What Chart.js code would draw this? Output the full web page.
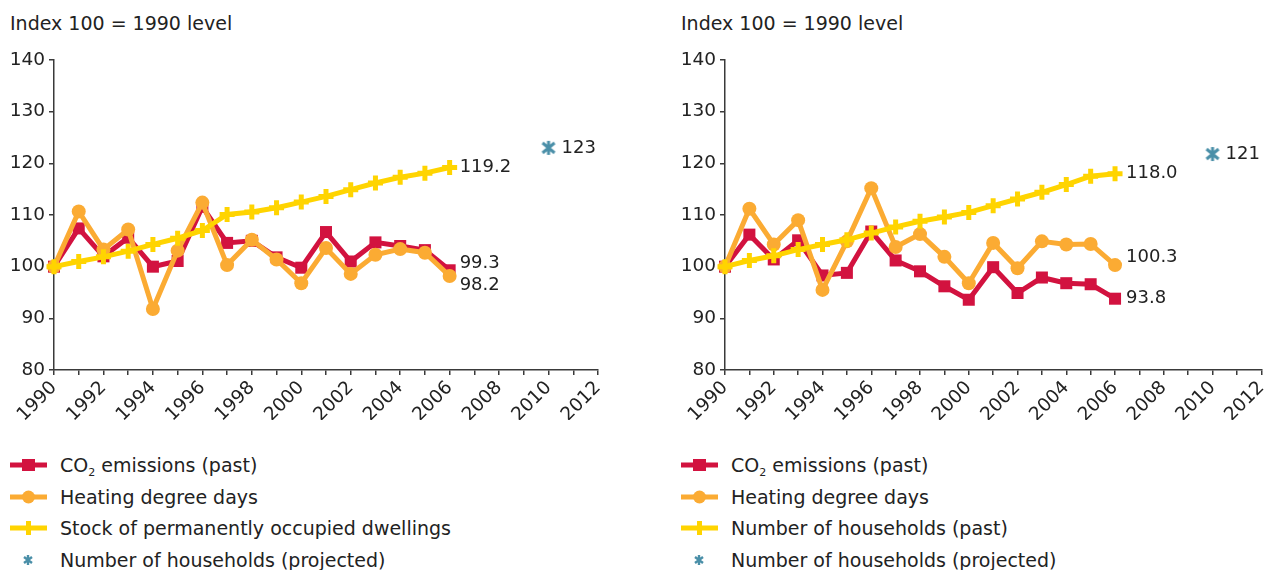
<!DOCTYPE html>
<html>
<head>
<meta charset="utf-8">
<script src="https://cdn.jsdelivr.net/npm/chart.js@4.4.1/dist/chart.umd.min.js"></script>
<style>
  html, body { margin:0; padding:0; background:#fff; }
  body { width:1279px; height:570px; position:relative; overflow:hidden; font-family:"DejaVu Sans", Verdana, sans-serif; color:#222; }
  .panel { position:absolute; top:0; height:420px; }
  .ttl { position:absolute; top:12px; font-size:19px; white-space:nowrap; }
  .leg { position:absolute; font-size:19px; white-space:nowrap; }
  .leg .row { position:absolute; left:0; height:24px; line-height:24px; }
  .leg canvas { position:absolute; left:0; top:0; }
  .leg span { position:absolute; left:50px; top:0; }
  sub { font-size:11px; vertical-align:-4px; line-height:0; }
</style>
</head>
<body>
<div class="ttl" style="left:10px;">Index 100 = 1990 level</div>
<div class="ttl" style="left:681px;">Index 100 = 1990 level</div>
<div class="panel" style="left:0;width:640px;"><canvas id="c1" width="640" height="420"></canvas></div>
<div class="panel" style="left:671px;width:608px;"><canvas id="c2" width="608" height="420"></canvas></div>
<div class="leg" id="leg1" style="left:10px;top:453px;width:600px;height:120px;"></div>
<div class="leg" id="leg2" style="left:681px;top:453px;width:598px;height:120px;"></div>
<script>
const years = [1990,1991,1992,1993,1994,1995,1996,1997,1998,1999,2000,2001,2002,2003,2004,2005,2006];
const projYear = 2010;
const xTicksMin = 1990, xTicksMax = 2012;
const yTicksMin = 80, yTicksMax = 140, yStep = 10;

const leftCO2   = [100,107.4,102.0,105.6,100.0,101.1,111.6,104.6,105.0,101.8,99.8,106.7,101.0,104.7,104.0,103.2,99.3];
const leftHDD   = [100,110.7,103.3,107.2,91.8,103.1,112.4,100.3,105.2,101.4,96.8,103.6,98.6,102.3,103.4,102.7,98.2];
const leftStock = [100,101.0,101.9,103.0,104.3,105.5,107.0,110.1,110.6,111.4,112.5,113.6,114.9,116.2,117.3,118.1,119.2];
const leftProj  = 123;
const leftProjLabel = '123';

const rightCO2  = [100,106.2,101.4,105.1,98.3,98.8,106.8,101.2,99.1,96.2,93.6,99.9,94.9,97.9,96.8,96.6,93.8];
const rightHDD  = [100,111.2,104.3,109.0,95.5,104.9,115.2,103.8,106.3,101.9,96.8,104.6,99.7,104.9,104.3,104.4,100.3];
const rightHH   = [100,101.2,102.1,103.3,104.3,105.2,106.5,107.7,108.8,109.6,110.5,111.8,113.1,114.4,115.9,117.5,118.0];
const rightProj = 121.8;
const rightProjLabel = '121';

const leftLabels  = ["CO2 emissions (past)","Heating degree days","Stock of permanently occupied dwellings","Number of households (projected)"];
const rightLabels = ["CO2 emissions (past)","Heating degree days","Number of households (past)","Number of households (projected)"];

const C_RED = '#d2123f', C_ORG = '#fbab33', C_YEL = '#ffd400', C_BLU = '#4a8fa8', C_TXT = '#222', C_AX = '#3a3a3a';
const FONT = '"DejaVu Sans", Verdana, sans-serif';

function projIcon(sz, lw) {
  const c = document.createElement('canvas');
  c.width = sz; c.height = sz;
  const g = c.getContext('2d');
  g.strokeStyle = C_BLU; g.lineWidth = lw; g.lineCap = 'butt';
  const m = sz / 2, a = 1, b = sz - 1;
  g.beginPath();
  g.moveTo(m, a); g.lineTo(m, b);
  g.moveTo(a + 1, a + 2); g.lineTo(b - 1, b - 2);
  g.moveTo(b - 1, a + 2); g.lineTo(a + 1, b - 2);
  g.stroke();
  return c;
}
const PROJ = projIcon(16, 3);
const PROJ_LEG = projIcon(12, 2.4);

const endLabels = {
  id: 'endLabels',
  afterDatasetsDraw(chart, args, opts) {
    const ctx = chart.ctx;
    ctx.save();
    ctx.font = '18px ' + FONT;
    ctx.fillStyle = C_TXT;
    ctx.textBaseline = 'middle';
    ctx.textAlign = 'left';
    (opts.items || []).forEach(it => {
      const meta = chart.getDatasetMeta(it.ds);
      const pts = meta.data;
      const p = pts[pts.length - 1];
      const ds = chart.data.datasets[it.ds];
      const v = ds.data[ds.data.length - 1].y;
      ctx.fillText(it.text !== undefined ? it.text : v.toFixed(1), p.x + it.dx, p.y + it.dy);
    });
    ctx.restore();
  }
};

function series(vals) { return vals.map((v,i) => ({x: years[i], y: v})); }

function makeChart(id, co2, hdd, third, proj, labelItems) {
  const datasets = [
    { label:'co2', data: series(co2), borderColor:C_RED, backgroundColor:C_RED, borderWidth:5,
      pointStyle:'rect', pointRadius:8.5, pointBorderWidth:0, pointBackgroundColor:C_RED, order:3, clip:false, tension:0 },
    { label:'hdd', data: series(hdd), borderColor:C_ORG, backgroundColor:C_ORG, borderWidth:5,
      pointStyle:'circle', pointRadius:7, pointBorderWidth:0, pointBackgroundColor:C_ORG, order:2, clip:false, tension:0 },
    { label:'third', data: series(third), borderColor:C_YEL, backgroundColor:C_YEL, borderWidth:5,
      pointStyle:'cross', pointRadius:7.5, pointBorderWidth:5, pointBorderColor:C_YEL, order:1, clip:false, tension:0 },
    { label:'proj', data: [{x: projYear, y: proj}], showLine:false, pointStyle: PROJ, pointRadius:8, order:0, clip:false }
  ];
  return new Chart(document.getElementById(id), {
    type: 'line',
    data: { datasets },
    plugins: [endLabels],
    options: {
      responsive:false, animation:false, events:[],
      layout: { padding: { top:60, right: (id === 'c1' ? 42 : 12), bottom:0, left:0 } },
      plugins: {
        legend:{display:false}, tooltip:{enabled:false}, title:{display:false},
        endLabels: { items: labelItems }
      },
      scales: {
        x: {
          type:'linear', min:xTicksMin, max:xTicksMax,
          afterFit(s){ s.height = 50; },
          border:{ display:true, color:C_AX, width:1.5 },
          grid:{ drawOnChartArea:false, drawTicks:true, tickLength:5, color:C_AX, lineWidth:1.5 },
          ticks:{ stepSize:1, autoSkip:false, minRotation:45, maxRotation:45, padding:2,
                  color:C_TXT, font:{ family:FONT, size:18.5 },
                  callback:(v) => (v % 2 === 0 ? String(v) : '') }
        },
        y: {
          type:'linear', min:yTicksMin, max:yTicksMax,
          afterFit(s){ s.width = 54; },
          border:{ display:true, color:C_AX, width:1.5 },
          grid:{ drawOnChartArea:false, drawTicks:true, tickLength:5, color:C_AX, lineWidth:1.5 },
          ticks:{ stepSize:yStep, padding:4, color:C_TXT, font:{ family:FONT, size:18.5 } }
        }
      }
    }
  });
}

makeChart('c1', leftCO2, leftHDD, leftStock, leftProj, [
  {ds:2, dx:10, dy:0}, {ds:0, dx:10, dy:-7}, {ds:1, dx:10, dy:9}, {ds:3, dx:13, dy:0, text:leftProjLabel}
]);
makeChart('c2', rightCO2, rightHDD, rightHH, rightProj, [
  {ds:2, dx:11, dy:0}, {ds:1, dx:11, dy:-8}, {ds:0, dx:11, dy:0}, {ds:3, dx:13, dy:0, text:rightProjLabel}
]);

function buildLegend(id, labels) {
  const host = document.getElementById(id);
  const styles = ['rect','circle','cross','proj'];
  const colors = [C_RED, C_ORG, C_YEL, C_BLU];
  labels.forEach((lab, i) => {
    const row = document.createElement('div');
    row.className = 'row';
    row.style.top = (i * 31.5) + 'px';
    const cv = document.createElement('canvas');
    cv.width = 40; cv.height = 24;
    const g = cv.getContext('2d');
    const cy = 12;
    if (styles[i] !== 'proj') {
      g.strokeStyle = colors[i]; g.lineWidth = 5;
      g.beginPath(); g.moveTo(0, cy); g.lineTo(37, cy); g.stroke();
      g.fillStyle = colors[i];
      if (styles[i] === 'rect') { g.fillRect(12, cy - 6, 13, 12); }
      else if (styles[i] === 'circle') { g.beginPath(); g.arc(18.5, cy, 6.5, 0, Math.PI*2); g.fill(); }
      else { g.lineWidth = 5; g.beginPath(); g.moveTo(18.5, cy - 7); g.lineTo(18.5, cy + 7); g.stroke(); }
    } else {
      g.drawImage(PROJ_LEG, 12, cy - 6);
    }
    row.appendChild(cv);
    const sp = document.createElement('span');
    if (lab.indexOf('CO2') === 0) {
      sp.innerHTML = 'CO<sub>2</sub>' + lab.slice(3);
    } else {
      sp.textContent = lab;
    }
    row.appendChild(sp);
    host.appendChild(row);
  });
}
buildLegend('leg1', leftLabels);
buildLegend('leg2', rightLabels);
</script>
</body>
</html>
